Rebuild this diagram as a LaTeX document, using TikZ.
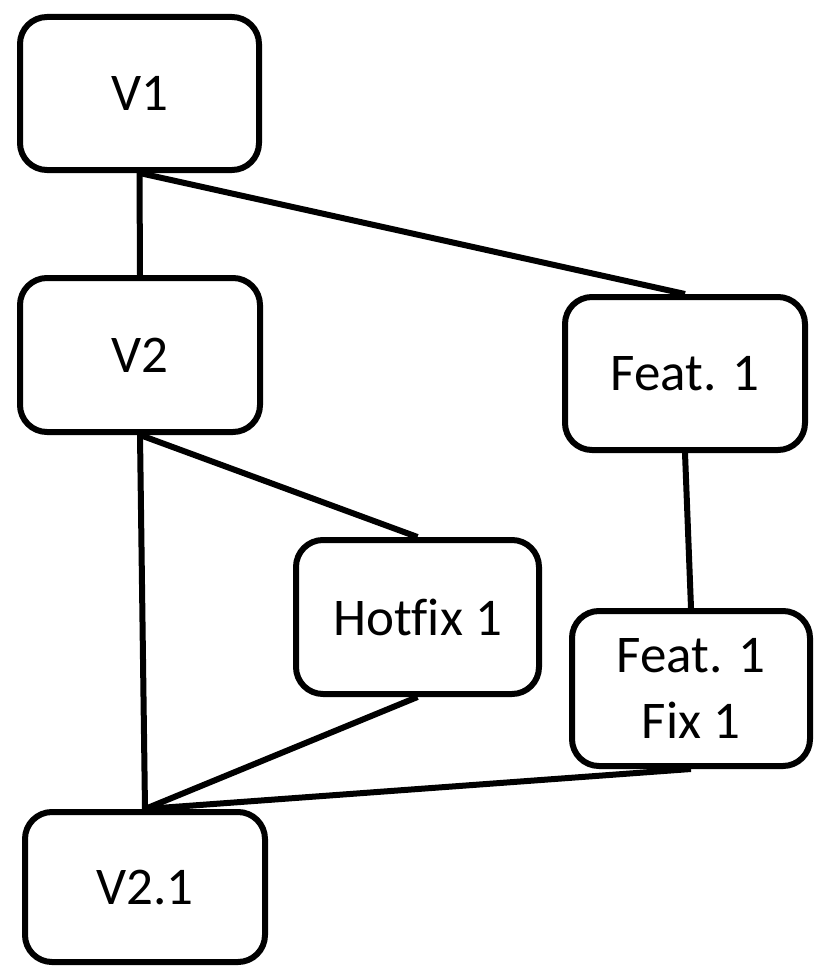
\documentclass[tikz,border=0pt]{standalone}
\usepackage{fontspec}
\setmainfont[Ligatures=NoCommon]{Carlito}
\begin{document}
\begin{tikzpicture}[x=1pt,y=-1pt,
  vbox/.style={draw=black,line width=6pt,rounded corners=27pt,fill=white,
    align=center,font=\fontsize{53}{66}\selectfont,inner sep=0pt},
  conn/.style={draw=black,line width=6pt}]
\useasboundingbox (0,0) rectangle (814,966);
\node[vbox,minimum width=239pt,minimum height=153pt] (v1) at (139.5,93.5) {V1};
\node[vbox,minimum width=240pt,minimum height=154pt] (v2) at (140,355) {V2};
\node[vbox,minimum width=240pt,minimum height=153pt] (f1) at (685,373.5) {Feat. 1};
\node[vbox,minimum width=243pt,minimum height=154pt] (hf) at (417.5,617) {Hotfix 1};
\node[vbox,minimum width=238pt,minimum height=155pt] (ff) at (691,688.5) {Feat. 1\\Fix 1};
\node[vbox,minimum width=240pt,minimum height=150pt] (v21) at (145,887) {V2.1};
\draw[conn] (v1.south) -- (v2.north);
\draw[conn] (v1.south) -- (f1.north);
\draw[conn] (v2.south) -- (hf.north);
\draw[conn] (v2.south) -- (v21.north);
\draw[conn] (hf.south) -- (v21.north);
\draw[conn] (f1.south) -- (ff.north);
\draw[conn] (ff.south) -- (v21.north);
\end{tikzpicture}
\end{document}
